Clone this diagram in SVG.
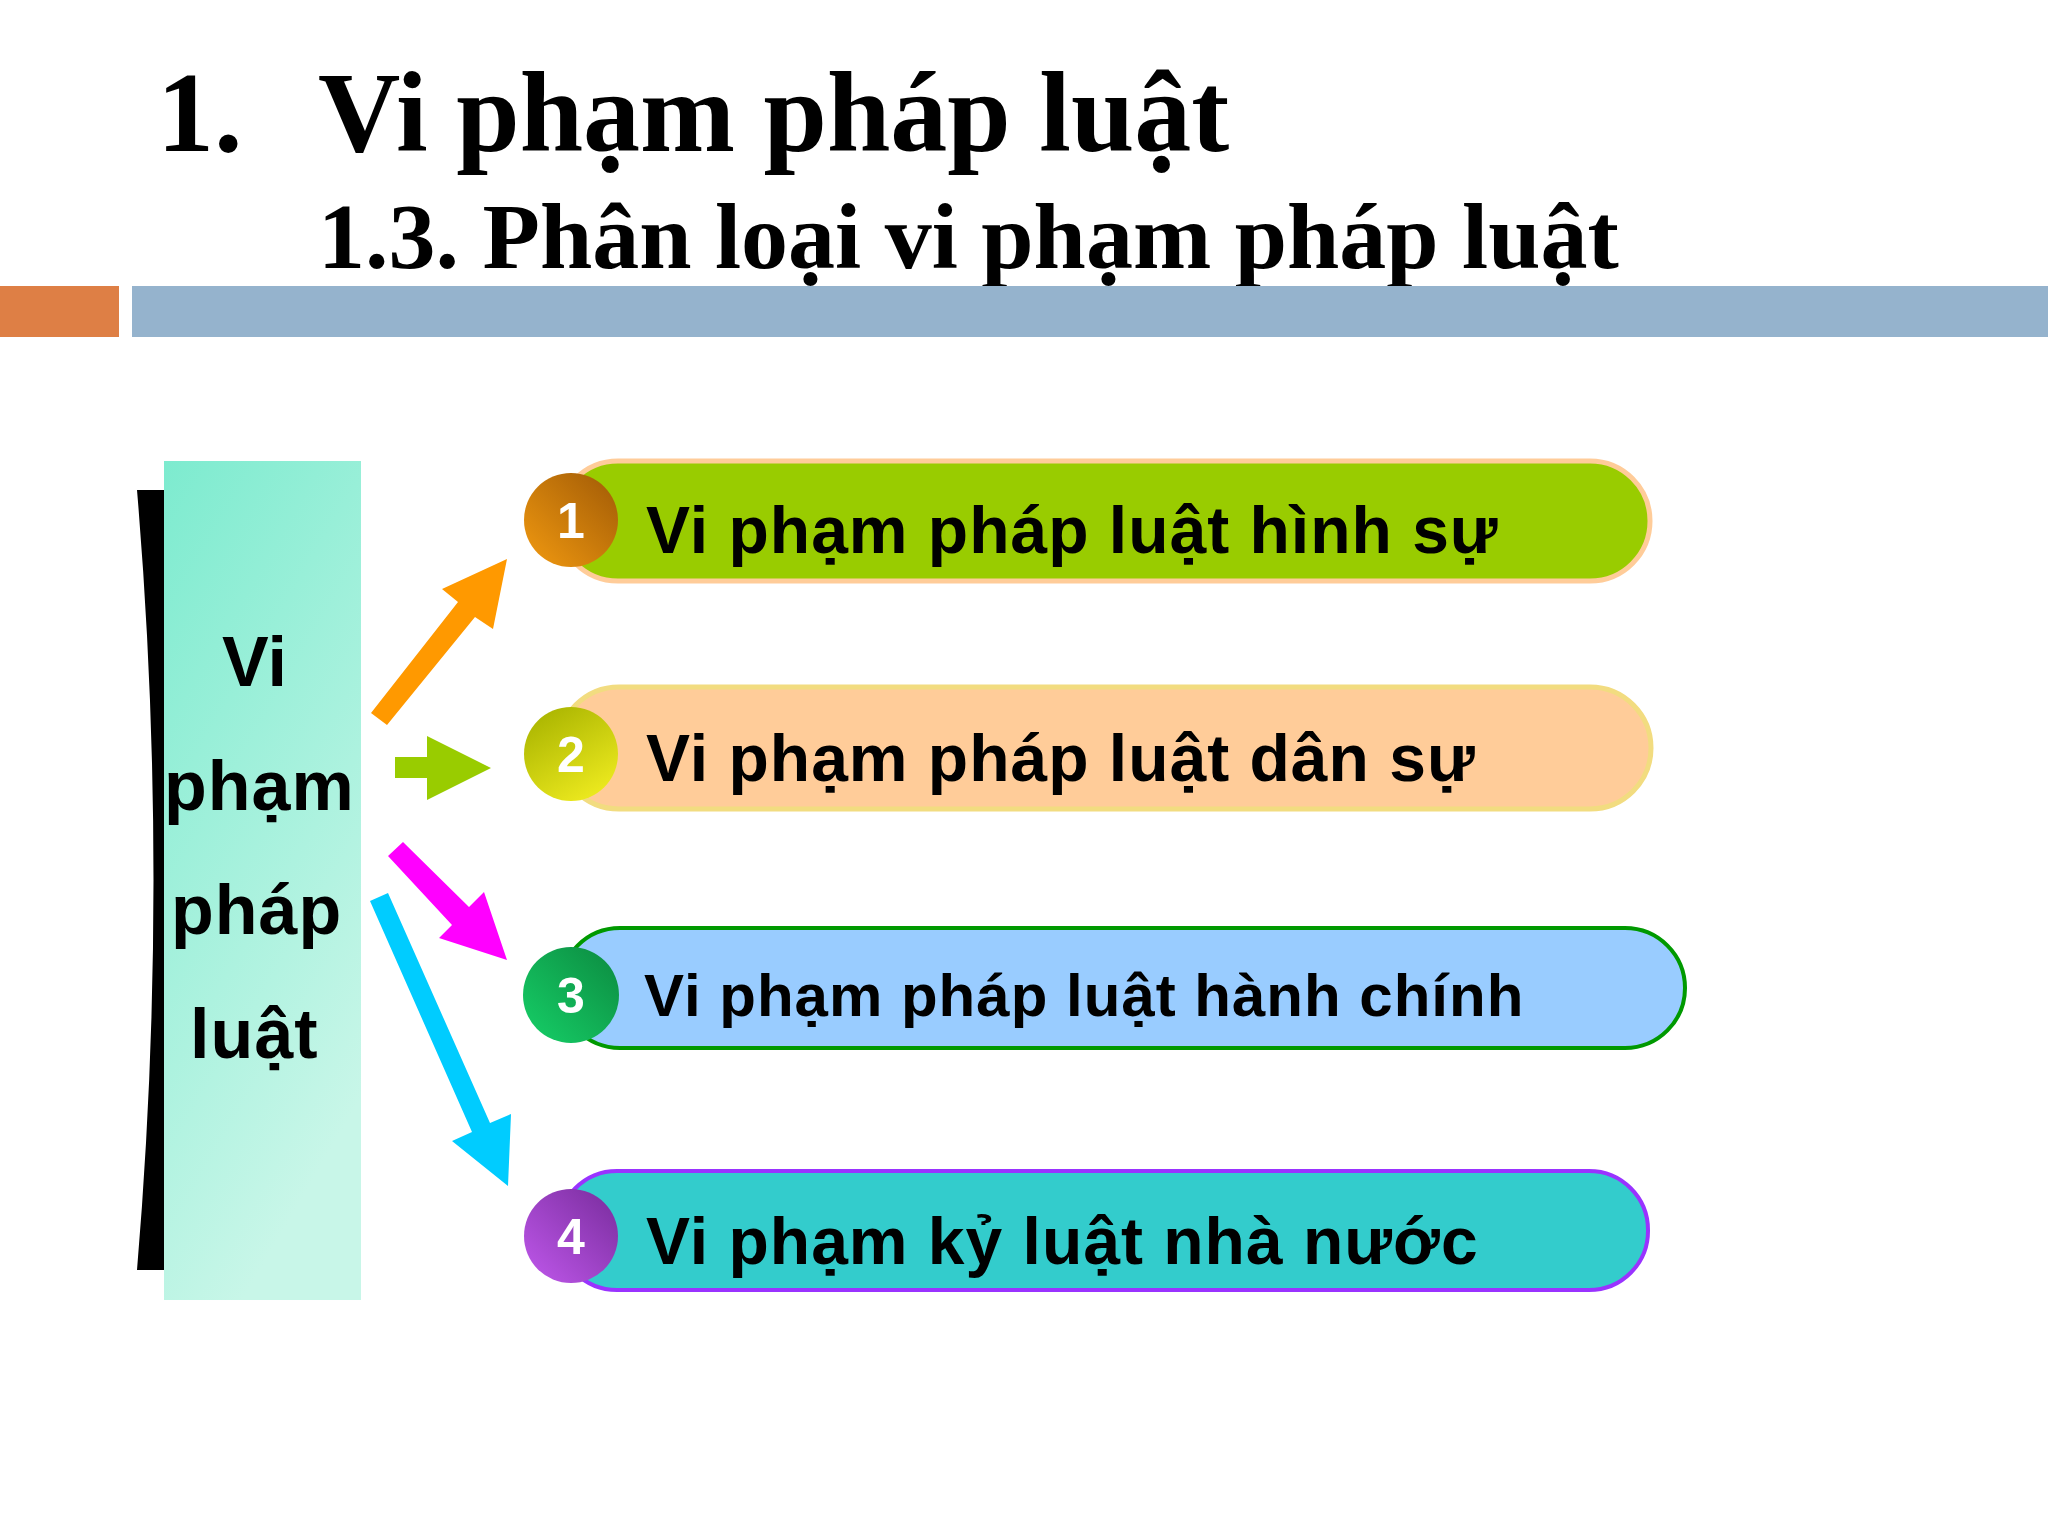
<svg xmlns="http://www.w3.org/2000/svg" width="2048" height="1536" viewBox="0 0 2048 1536">
<style>
.title{font-family:"Liberation Serif","Times New Roman",serif;font-weight:bold;fill:#000}
.lbl{font-family:"Liberation Sans",Arial,sans-serif;font-weight:bold;fill:#000;letter-spacing:1px}
.num{font-family:"Liberation Sans",Arial,sans-serif;font-weight:bold;fill:#fff;font-size:50px;text-anchor:middle}
.side{font-family:"Liberation Sans",Arial,sans-serif;font-weight:bold;fill:#000;font-size:70px}
</style>
<defs>
<linearGradient id="gTeal" x1="0" y1="0" x2="0.4" y2="1">
<stop offset="0" stop-color="#7DEBCF"/>
<stop offset="1" stop-color="#C8F6E8"/>
</linearGradient>
<linearGradient id="gB1" x1="0" y1="1" x2="1" y2="0">
<stop offset="0" stop-color="#F29A10"/>
<stop offset="1" stop-color="#A05A06"/>
</linearGradient>
<linearGradient id="gB2" x1="0.8" y1="1" x2="0.2" y2="0">
<stop offset="0" stop-color="#F0EC20"/>
<stop offset="1" stop-color="#A9B400"/>
</linearGradient>
<linearGradient id="gB3" x1="0" y1="1" x2="1" y2="0">
<stop offset="0" stop-color="#16D068"/>
<stop offset="1" stop-color="#0C8A40"/>
</linearGradient>
<linearGradient id="gB4" x1="0" y1="1" x2="1" y2="0">
<stop offset="0" stop-color="#C058EC"/>
<stop offset="1" stop-color="#782C9C"/>
</linearGradient>
</defs>
<rect width="2048" height="1536" fill="#FFFFFF"/>

<g id="header">
<text class="title" x="157" y="151" font-size="114">1.</text>
<text class="title" x="318" y="151" font-size="114">Vi phạm pháp luật</text>
<text class="title" x="318" y="268" font-size="94">1.3. Phân loại vi phạm pháp luật</text>
<rect x="0" y="286" width="119" height="51" fill="#DE7F45"/>
<rect x="132" y="286" width="1916" height="51" fill="#95B3CD"/>
</g>

<g id="root-node">
<path d="M137,490 L166,490 L166,1270 L137,1270 Q170,880 137,490 Z" fill="#000"/>
<rect x="164" y="461" width="197" height="839" fill="url(#gTeal)"/>
<text class="side" x="222" y="686">Vi</text>
<text class="side" x="164" y="810" letter-spacing="1">phạm</text>
<text class="side" x="171" y="934" letter-spacing="1">pháp</text>
<text class="side" x="190" y="1058" letter-spacing="1">luật</text>
</g>

<g id="connectors">
<polygon points="371,713 458,602 442,589 507,559 493,629 475,617 387,725" fill="#FF9900"/>
<polygon points="395,757 427,757 427,736 491,768 427,800 427,778 395,778" fill="#99CC00"/>
<polygon points="403,842 469,907 484,892 507,960 439,938 452,925 388,856" fill="#FF00FF"/>
<polygon points="388,893 490,1123 511,1114 508,1186 452,1141 472,1132 370,901" fill="#00CCFF"/>
</g>

<g id="node1">
<rect x="558" y="461" width="1092" height="120" rx="60" fill="#99CC00" stroke="#FFCC99" stroke-width="5"/>
<circle cx="571" cy="520" r="47" fill="url(#gB1)"/>
<text class="num" x="571" y="538">1</text>
<text class="lbl" x="646" y="553" font-size="66">Vi phạm pháp luật hình sự</text>
</g>

<g id="node2">
<rect x="558" y="687" width="1093" height="122" rx="61" fill="#FFCC99" stroke="#F2DC80" stroke-width="5"/>
<circle cx="571" cy="754" r="47" fill="url(#gB2)"/>
<text class="num" x="571" y="772">2</text>
<text class="lbl" x="646" y="781" font-size="66">Vi phạm pháp luật dân sự</text>
</g>

<g id="node3">
<rect x="560" y="928" width="1125" height="120" rx="60" fill="#99CCFF" stroke="#009900" stroke-width="4"/>
<circle cx="571" cy="995" r="48" fill="url(#gB3)"/>
<text class="num" x="571" y="1013">3</text>
<text class="lbl" x="644" y="1016" font-size="60">Vi phạm pháp luật hành chính</text>
</g>

<g id="node4">
<rect x="558" y="1171" width="1090" height="119" rx="59" fill="#33CCCC" stroke="#9933FF" stroke-width="4"/>
<circle cx="571" cy="1236" r="47" fill="url(#gB4)"/>
<text class="num" x="571" y="1254">4</text>
<text class="lbl" x="646" y="1264" font-size="66">Vi phạm kỷ luật nhà nước</text>
</g>
</svg>
